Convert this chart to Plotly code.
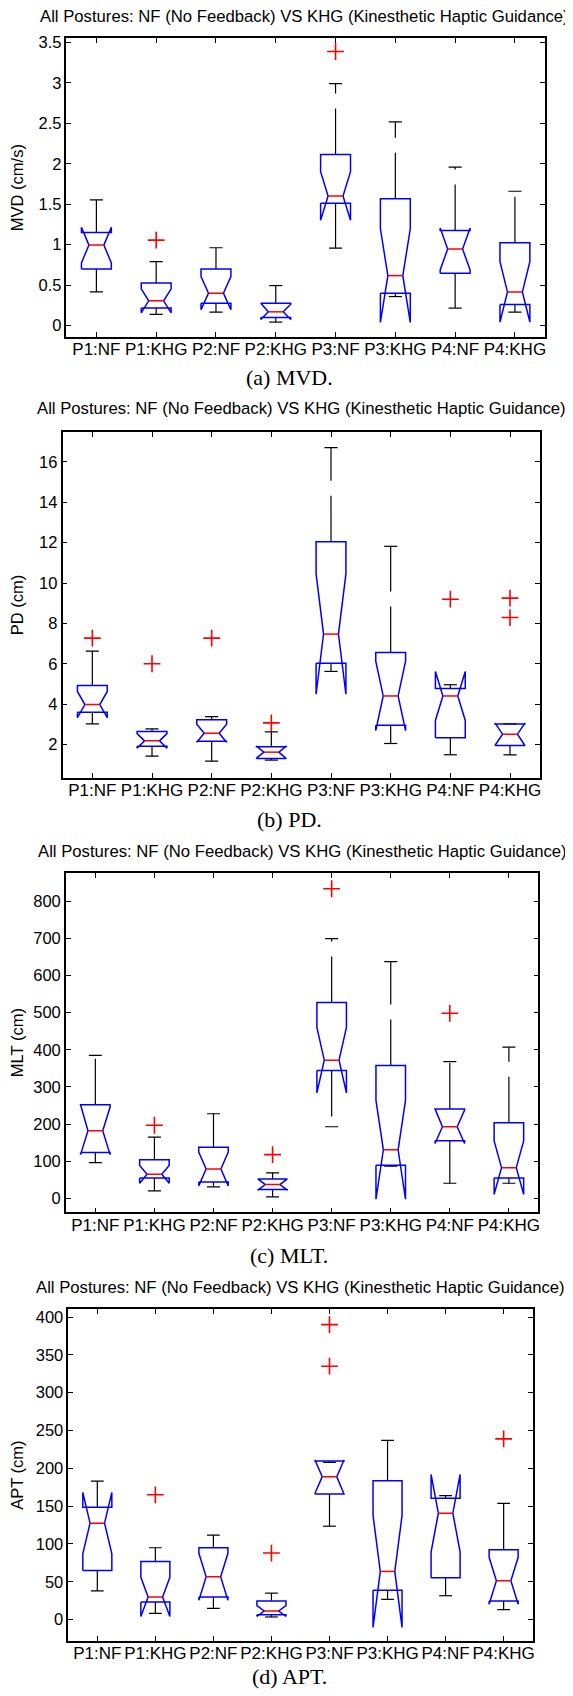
import plotly.graph_objects as go

# ---------------- data ----------------
categories = ["P1:NF", "P1:KHG", "P2:NF", "P2:KHG", "P3:NF", "P3:KHG", "P4:NF", "P4:KHG"]
title_text = "All Postures: NF (No Feedback) VS KHG (Kinesthetic Haptic Guidance)"

# (a) MVD (cm/s)
mvd_q1 = [0.698, 0.214, 0.275, 0.099, 1.512, 0.399, 0.645, 0.259]
mvd_med = [0.994, 0.304, 0.399, 0.168, 1.602, 0.616, 0.945, 0.415]
mvd_q3 = [1.150, 0.526, 0.698, 0.275, 2.116, 1.569, 1.175, 1.023]
mvd_notch = [0.22, 0.148, 0.205, 0.094, 0.30, 0.58, 0.259, 0.375]
mvd_wlo = [0.415, 0.136, 0.164, 0.041, 0.957, 0.357, 0.214, 0.164]
mvd_whi = [1.553, 0.789, 0.961, 0.493, 2.991, 2.518, 1.960, 1.660]
mvd_out = [[], [1.056], [], [], [3.39], [], [], []]
mvd_ticks = [0, 0.5, 1, 1.5, 2, 2.5, 3, 3.5]

# (b) PD (cm)
pd_q1 = [3.60, 1.918, 2.165, 1.308, 6.02, 2.955, 2.33, 1.95]
pd_med = [3.977, 2.181, 2.56, 1.621, 7.47, 4.405, 4.405, 2.51]
pd_q3 = [4.92, 2.642, 3.22, 1.885, 12.05, 6.56, 4.78, 3.02]
pd_notch = [0.65, 0.36, 0.445, 0.30, 2.98, 1.72, 1.215, 0.55]
pd_wlo = [3.02, 1.42, 1.176, 1.226, 5.62, 2.05, 1.49, 1.49]
pd_whi = [6.63, 2.774, 3.38, 2.626, 16.71, 11.82, 4.96, 3.02]
pd_out = [[7.27], [6.00], [7.27], [3.07], [], [], [9.20], [9.25, 8.29]]
pd_ticks = [2, 4, 6, 8, 10, 12, 14, 16]

# (c) MLT (cm)
mlt_q1 = [124, 55, 44.7, 24, 344, 89.4, 155.5, 55.4]
mlt_med = [182, 65, 79.5, 37.5, 372, 131, 193, 83]
mlt_q3 = [252, 104, 138, 52.7, 527, 358, 241, 204]
mlt_notch = [64, 24, 45.5, 15, 88, 133, 45, 72]
mlt_wlo = [96.5, 20.5, 31.3, 4.5, 193, 86.7, 41, 41]
mlt_whi = [385, 165, 228, 69, 699, 637, 368, 407]
mlt_out = [[], [197], [], [118], [833], [], [498], []]
mlt_ticks = [0, 100, 200, 300, 400, 500, 600, 700, 800]

# (d) APT (cm)
apt_q1 = [65, 23.3, 30, 6.6, 166, 38.7, 55.4, 24.6]
apt_med = [127.5, 30, 56.7, 11.4, 189, 63.7, 140.7, 51.4]
apt_q3 = [148.6, 77, 95, 24.6, 209.7, 183.7, 160.4, 92.3]
apt_notch = [40.5, 26, 31, 7, 22, 74, 51.3, 31]
apt_wlo = [38, 8.4, 15, 3.5, 123.5, 26.8, 31.6, 13.2]
apt_whi = [183, 95, 111.6, 35, 208, 237, 164, 153.8]
apt_out = [[], [165], [], [88], [390, 335], [], [], [239]]
apt_ticks = [0, 50, 100, 150, 200, 250, 300, 350, 400]

panels = [
    dict(ylabel="MVD (cm/s)", caption="(a) MVD.", q1=mvd_q1, med=mvd_med, q3=mvd_q3,
         notch=mvd_notch, wlo=mvd_wlo, whi=mvd_whi, out=mvd_out, ticks=mvd_ticks),
    dict(ylabel="PD (cm)", caption="(b) PD.", q1=pd_q1, med=pd_med, q3=pd_q3,
         notch=pd_notch, wlo=pd_wlo, whi=pd_whi, out=pd_out, ticks=pd_ticks),
    dict(ylabel="MLT (cm)", caption="(c) MLT.", q1=mlt_q1, med=mlt_med, q3=mlt_q3,
         notch=mlt_notch, wlo=mlt_wlo, whi=mlt_whi, out=mlt_out, ticks=mlt_ticks),
    dict(ylabel="APT (cm)", caption="(d) APT.", q1=apt_q1, med=apt_med, q3=apt_q3,
         notch=apt_notch, wlo=apt_wlo, whi=apt_whi, out=apt_out, ticks=apt_ticks),
]

# ---------------- layout geometry (screen pixels) ----------------
W, H = 573, 1696
OFF = 8  # default page (body) margin of the written html


def px_x(v):
    return (v - OFF) / W


def px_y(v):
    return 1 - (v - OFF) / H


frames = [(66.7, 546.7, 33.3, 333.0), (62.7, 541.7, 428.3, 775.0),
          (66.0, 540.3, 870.3, 1211.0), (68.5, 534.5, 1308.3, 1640.7)]
yranges = [(-0.144, 3.554), (0.353, 17.48), (-37.5, 876), (-28.1, 410)]
title_y = [12, 405, 849, 1286]
caption_y = [374, 817, 1254, 1676]
caption_x = 290

SANS = "Liberation Sans, Arial, Helvetica, sans-serif"
SERIF = "Liberation Serif, Times New Roman, serif"
FS_Y = 16.5
FS_X = 17
FS_TITLE = 16.7
TITLE_HALF_W = 31.7 * FS_TITLE / 2

BOX_HALF = 0.25
NOTCH_HALF = 0.125
CAP_HALF = 0.11

fig = go.Figure()
layout = dict(width=W, height=H, margin=dict(l=0, r=0, t=0, b=0),
              paper_bgcolor="white", plot_bgcolor="white", showlegend=False,
              annotations=[])

for i, p in enumerate(panels):
    sfx = "" if i == 0 else str(i + 1)
    xa, ya = "x" + sfx, "y" + sfx
    x0, x1, y0, y1 = frames[i]

    for k in range(len(categories)):
        x = k + 1
        # whiskers (dashed, starting at box edge)
        for a, b in ((p["q3"][k], p["whi"][k]), (p["q1"][k], p["wlo"][k])):
            fig.add_trace(go.Scatter(x=[x, x], y=[a, b], mode="lines", xaxis=xa, yaxis=ya,
                                     line=dict(color="black", width=1.2, dash="46px,15px"),
                                     hoverinfo="skip"))
    # caps
    cx, cy = [], []
    for k in range(len(categories)):
        x = k + 1
        for v in (p["whi"][k], p["wlo"][k]):
            cx += [x - CAP_HALF, x + CAP_HALF, None]
            cy += [v, v, None]
    fig.add_trace(go.Scatter(x=cx, y=cy, mode="lines", xaxis=xa, yaxis=ya,
                             line=dict(color="black", width=1.2), hoverinfo="skip"))
    # notched boxes
    bx, by = [], []
    for k in range(len(categories)):
        x = k + 1
        m = p["med"][k]
        lo, hi = m - p["notch"][k], m + p["notch"][k]
        q1, q3 = p["q1"][k], p["q3"][k]
        bx += [x - BOX_HALF, x - BOX_HALF, x - NOTCH_HALF, x - BOX_HALF, x - BOX_HALF,
               x + BOX_HALF, x + BOX_HALF, x + NOTCH_HALF, x + BOX_HALF, x + BOX_HALF,
               x - BOX_HALF, None]
        by += [q1, lo, m, hi, q3, q3, hi, m, lo, q1, q1, None]
    fig.add_trace(go.Scatter(x=bx, y=by, mode="lines", xaxis=xa, yaxis=ya,
                             line=dict(color="#0000ff", width=1.5), hoverinfo="skip"))
    # medians
    mx, my = [], []
    for k in range(len(categories)):
        x = k + 1
        mx += [x - NOTCH_HALF, x + NOTCH_HALF, None]
        my += [p["med"][k], p["med"][k], None]
    fig.add_trace(go.Scatter(x=mx, y=my, mode="lines", xaxis=xa, yaxis=ya,
                             line=dict(color="#ff0000", width=1.5), hoverinfo="skip"))
    # outliers
    ox, oy = [], []
    for k in range(len(categories)):
        for v in p["out"][k]:
            ox.append(k + 1)
            oy.append(v)
    fig.add_trace(go.Scatter(x=ox, y=oy, mode="markers", xaxis=xa, yaxis=ya,
                             marker=dict(symbol="cross-thin", size=12, color="#ff0000",
                                         line=dict(color="#ff0000", width=1.6)),
                             hoverinfo="skip"))

    axis_common = dict(showgrid=False, zeroline=False, showline=True, linecolor="black",
                       linewidth=1.5, ticks="inside", ticklen=5, tickwidth=1,
                       tickcolor="black", mirror="allticks")
    layout["xaxis" + sfx] = dict(axis_common, domain=[px_x(x0), px_x(x1)], anchor=ya,
                                 range=[0.5, 8.5], tickmode="array",
                                 tickvals=list(range(1, len(categories) + 1)),
                                 ticktext=categories, ticklabelstandoff=-4,
                                 tickfont=dict(family=SANS, size=FS_X, color="black"))
    layout["yaxis" + sfx] = dict(axis_common, domain=[px_y(y1), px_y(y0)], anchor=xa,
                                 range=list(yranges[i]), tickmode="array",
                                 tickvals=p["ticks"],
                                 tickfont=dict(family=SANS, size=FS_Y, color="black"),
                                 title=dict(text=p["ylabel"], standoff=11,
                                            font=dict(family=SANS, size=FS_Y, color="black")))
    title_cx = min((x0 + x1) / 2, 570 - TITLE_HALF_W)
    layout["annotations"].append(dict(text=title_text, xref="paper", yref="paper",
                                      x=px_x(title_cx), y=px_y(title_y[i]),
                                      xanchor="center", yanchor="middle", showarrow=False,
                                      font=dict(family=SANS, size=FS_TITLE, color="black")))
    layout["annotations"].append(dict(text=p["caption"], xref="paper", yref="paper",
                                      x=px_x(caption_x), y=px_y(caption_y[i]),
                                      xanchor="center", yanchor="middle", showarrow=False,
                                      font=dict(family=SERIF, size=22, color="black")))

fig.update_layout(**layout)
fig.write_html("out.html")
